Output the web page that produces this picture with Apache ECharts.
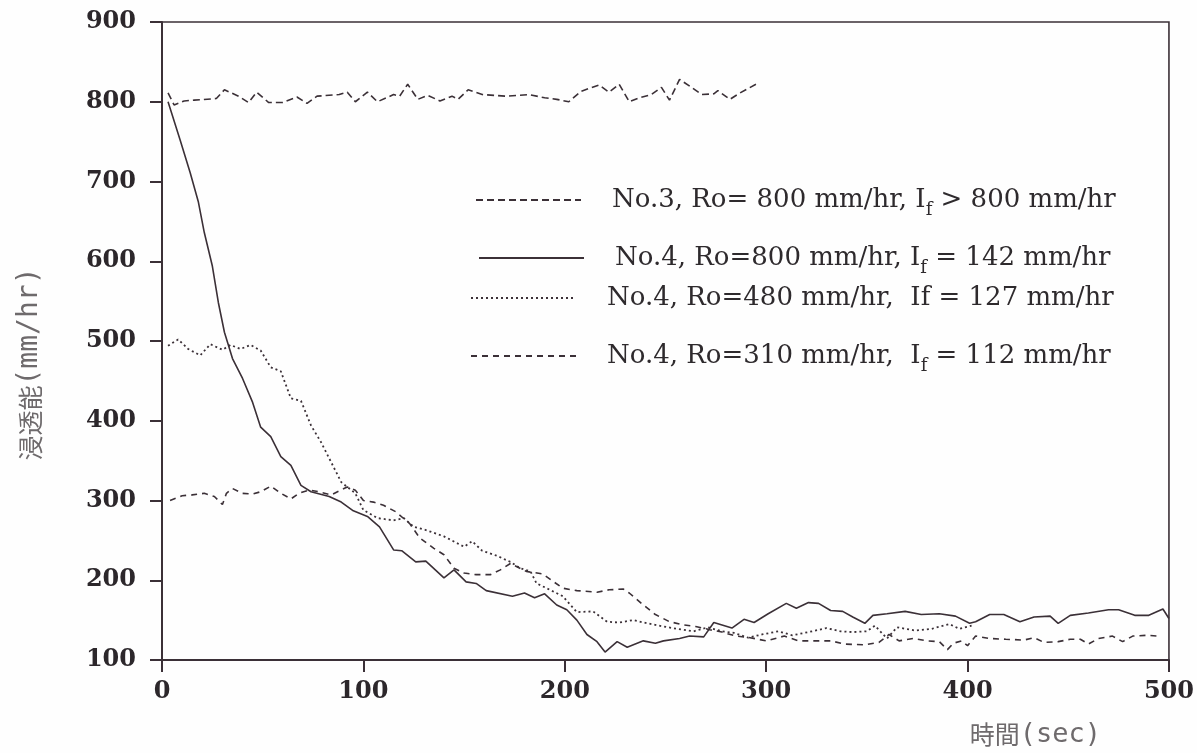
<!DOCTYPE html>
<html>
<head>
<meta charset="utf-8">
<script src="https://cdn.jsdelivr.net/npm/echarts@6/dist/echarts.min.js"></script>
<style>
  html, body { margin: 0; padding: 0; background: #fefefe; }
  #chart { width: 1197px; height: 753px; }
</style>
</head>
<body>
<div id="chart"></div>
<script>
// Infiltration capacity (mm/hr) against elapsed time (sec) for four runs.

const seriesNames = [
  'No.3, Ro= 800 mm/hr, If > 800 mm/hr',
  'No.4, Ro=800 mm/hr, If = 142 mm/hr',
  'No.4, Ro=480 mm/hr,  If = 127 mm/hr',
  'No.4, Ro=310 mm/hr,  If = 112 mm/hr'
];

// Run No.3, rainfall 800 mm/hr
const timeNo3 = [3, 6, 11, 16, 27, 31, 38, 43, 47, 53, 60, 67, 72, 77, 88, 92, 96, 102, 107, 115, 118, 122, 127, 132, 138, 144, 147, 152, 159, 171, 182, 190, 196, 202, 208, 217, 222, 227, 232, 237, 243, 248, 252, 257, 263, 268, 274, 276, 282, 287, 295];
const rateNo3 = [811, 796, 801, 802, 804, 815, 807, 799, 812, 799, 799, 806, 798, 807, 809, 812, 800, 812, 800, 809, 807, 822, 803, 808, 801, 807, 803, 815, 809, 807, 809, 805, 803, 800, 813, 821, 812, 822, 800, 805, 809, 818, 802, 828, 818, 809, 810, 814, 803, 811, 822];

// Run No.4, rainfall 800 mm/hr
const timeNo4R800 = [3, 9, 14, 18, 21, 25, 28, 31, 35, 40, 45, 49, 54, 59, 64, 69, 74, 83, 89, 95, 102, 108, 115, 119, 126, 131, 140, 145, 151, 156, 161, 174, 180, 185, 190, 196, 201, 206, 211, 216, 220, 226, 231, 239, 245, 249, 257, 262, 269, 274, 283, 289, 294, 301, 310, 315, 321, 326, 332, 338, 343, 349, 353, 360, 369, 377, 386, 394, 401, 404, 411, 418, 426, 433, 441, 445, 451, 460, 470, 475, 483, 490, 497, 500];
const rateNo4R800 = [800, 752, 711, 675, 636, 594, 548, 511, 478, 453, 423, 392, 380, 355, 344, 319, 311, 305, 298, 287, 280, 267, 238, 237, 223, 224, 203, 213, 198, 196, 187, 180, 184, 178, 183, 169, 163, 150, 132, 123, 110, 123, 116, 124, 121, 124, 127, 130, 129, 147, 140, 151, 147, 158, 171, 165, 172, 171, 162, 161, 154, 146, 156, 158, 161, 157, 158, 155, 146, 148, 157, 157, 148, 154, 155, 146, 156, 159, 163, 163, 156, 156, 164, 152];

// Run No.4, rainfall 480 mm/hr
const timeNo4R480 = [3, 8, 13, 19, 24, 30, 34, 39, 44, 49, 54, 59, 64, 69, 74, 79, 84, 89, 96, 100, 107, 115, 120, 125, 131, 140, 150, 154, 159, 166, 173, 178, 183, 186, 191, 199, 206, 214, 221, 227, 234, 241, 249, 256, 264, 271, 278, 284, 291, 298, 306, 313, 321, 330, 337, 343, 350, 354, 360, 365, 374, 382, 391, 396, 402];
const rateNo4R480 = [494, 502, 490, 482, 496, 489, 495, 490, 495, 488, 467, 462, 428, 425, 394, 373, 348, 323, 309, 288, 278, 275, 278, 267, 263, 255, 242, 249, 237, 231, 223, 215, 211, 196, 190, 180, 160, 161, 148, 147, 150, 146, 142, 139, 136, 141, 136, 134, 128, 132, 136, 131, 135, 140, 136, 135, 136, 143, 127, 141, 137, 139, 145, 139, 143];

// Run No.4, rainfall 310 mm/hr
const timeNo4R310 = [4, 10, 15, 21, 26, 30, 32, 35, 40, 45, 49, 54, 59, 64, 68, 73, 78, 84, 92, 96, 100, 105, 110, 116, 123, 128, 135, 140, 145, 150, 156, 163, 168, 173, 181, 189, 199, 206, 216, 222, 229, 232, 239, 245, 252, 259, 265, 272, 278, 285, 292, 300, 309, 316, 326, 332, 339, 349, 356, 361, 366, 373, 380, 386, 390, 393, 397, 400, 404, 411, 419, 428, 433, 438, 445, 451, 456, 460, 465, 472, 477, 482, 489, 494];
const rateNo4R310 = [300, 306, 307, 309, 305, 295, 309, 315, 309, 308, 311, 318, 309, 302, 309, 313, 311, 307, 317, 313, 300, 298, 294, 286, 271, 253, 240, 232, 215, 209, 207, 207, 213, 221, 211, 208, 190, 187, 185, 188, 189, 184, 169, 157, 148, 144, 142, 138, 135, 130, 128, 124, 130, 124, 124, 124, 120, 119, 122, 132, 124, 127, 124, 123, 113, 121, 124, 118, 130, 127, 126, 125, 128, 122, 123, 126, 126, 120, 127, 130, 123, 130, 131, 130];

// Axis ranges and tick steps
const xTicks = { min: 0, max: 500, step: 100 };
const yTicks = { min: 100, max: 900, step: 100 };

const ink = '#3b3037';
const zip = (ts, vs) => ts.map((t, i) => [t, vs[i]]);

// Legend labels with the subscript f of I_f
const legendRich = [
  '{gap| }{t|No.3, Ro= 800 mm/hr, I}{sub|f}{t| > 800 mm/hr}',
  '{gap| }{t|No.4, Ro=800 mm/hr, I}{sub|f}{t| = 142 mm/hr}',
  '{gap| }{t|No.4, Ro=480 mm/hr,  If = 127 mm/hr}',
  '{gap| }{t|No.4, Ro=310 mm/hr,  I}{sub|f}{t| = 112 mm/hr}'
];

const legendText = {
  rich: {
    gap: { width: 26, fontSize: 10 },
    t: { fontFamily: 'DejaVu Serif', fontSize: 26, color: '#2e2a2d', verticalAlign: 'middle', lineHeight: 32 },
    sub: { fontFamily: 'DejaVu Serif', fontSize: 18, color: '#2e2a2d', verticalAlign: 'top', lineHeight: 18, padding: [17, 0, 0, 0] }
  }
};

const legendRows = [
  { left: 475, top: 184 },
  { left: 478, top: 242 },
  { left: 470, top: 285 },
  { left: 470, top: 340 }
];

const lineStyles = [
  { type: [7, 4], width: 1.6 },
  { type: 'solid', width: 1.6 },
  { type: [2, 3], width: 1.8 },
  { type: [6, 5], width: 1.6 }
];

const seriesData = [
  zip(timeNo3, rateNo3),
  zip(timeNo4R800, rateNo4R800),
  zip(timeNo4R480, rateNo4R480),
  zip(timeNo4R310, rateNo4R310)
];

const chart = echarts.init(document.getElementById('chart'), null, { renderer: 'canvas' });

chart.setOption({
  backgroundColor: '#fefefe',
  animation: false,
  grid: {
    left: 162, right: 27, top: 22, bottom: 91,
    show: true, borderColor: ink, borderWidth: 1.6, backgroundColor: 'transparent'
  },
  legend: legendRows.map((pos, i) => ({
    data: [seriesNames[i]],
    left: pos.left,
    top: pos.top,
    orient: 'horizontal',
    itemWidth: 105,
    itemHeight: 14,
    padding: 0,
    selectedMode: false,
    itemStyle: { opacity: 0 },
    formatter: () => legendRich[i],
    textStyle: legendText
  })),
  xAxis: {
    type: 'value',
    min: xTicks.min, max: xTicks.max, interval: xTicks.step,
    name: '{c|時間}{m|(sec)}',
    nameLocation: 'middle',
    nameGap: 61,
    nameTextStyle: {
      padding: [0, 0, 0, 740],
      rich: {
        c: { fontFamily: 'Noto Sans CJK JP', fontSize: 25, color: '#6e6a6c' },
        m: { fontFamily: 'DejaVu Sans Mono', fontSize: 27, color: '#6e6a6c' }
      }
    },
    axisLine: { lineStyle: { color: ink, width: 2 } },
    axisTick: { inside: false, length: 12, lineStyle: { color: ink, width: 2 } },
    axisLabel: {
      margin: 20,
      fontFamily: 'DejaVu Serif', fontWeight: 'bold', fontSize: 24, color: '#2c272b'
    },
    splitLine: { show: false }
  },
  yAxis: {
    type: 'value',
    min: yTicks.min, max: yTicks.max, interval: yTicks.step,
    name: '{c|浸透能}{m|(mm/hr)}',
    nameLocation: 'middle',
    nameRotate: 90,
    nameGap: 118,
    nameTextStyle: {
      padding: [0, 46, 0, 0],
      rich: {
        c: { fontFamily: 'Noto Sans CJK JP', fontSize: 25, color: '#6e6a6c' },
        m: { fontFamily: 'DejaVu Sans Mono', fontSize: 28, color: '#6e6a6c' }
      }
    },
    axisLine: { show: true, lineStyle: { color: ink, width: 2 } },
    axisTick: { show: true, inside: false, length: 12, lineStyle: { color: ink, width: 2 } },
    axisLabel: {
      margin: 26,
      fontFamily: 'DejaVu Serif', fontWeight: 'bold', fontSize: 24, color: '#2c272b'
    },
    splitLine: { show: false }
  },
  series: seriesNames.map((name, i) => ({
    name,
    type: 'line',
    symbol: 'none',
    smooth: false,
    color: ink,
    lineStyle: Object.assign({ color: ink }, lineStyles[i]),
    data: seriesData[i]
  }))
});
</script>
</body>
</html>
